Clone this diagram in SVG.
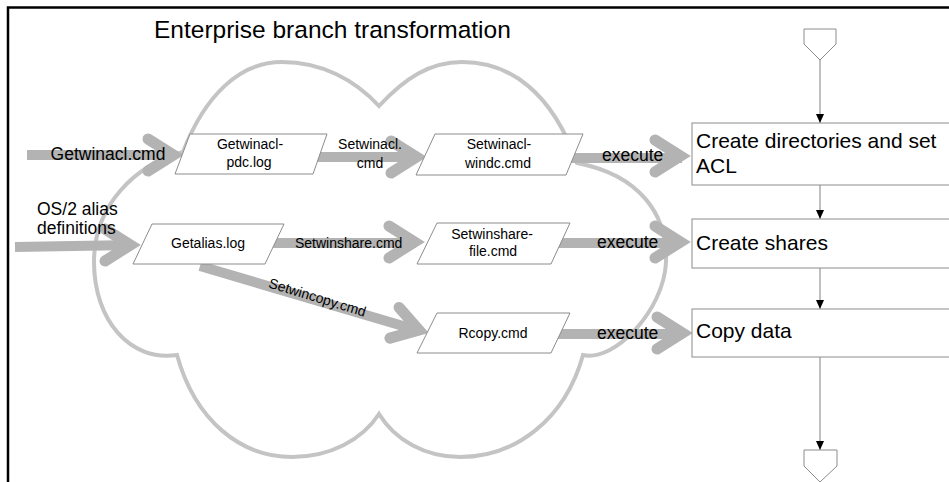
<svg xmlns="http://www.w3.org/2000/svg" xmlns:xlink="http://www.w3.org/1999/xlink" width="949" height="482" viewBox="0 0 949 482">
<style>
text{font-family:"Liberation Sans",Arial,sans-serif;fill:#000}
.t24{font-size:24.5px}
.t21{font-size:21px}
.t17{font-size:17.5px}
.t14{font-size:14px}
.mid{text-anchor:middle}
.cloud{fill:none;stroke:#c4c4c4;stroke-width:4}
.band{fill:none;stroke:#b3b3b3;stroke-width:10}
.head{fill:none;stroke:#b3b3b3;stroke-width:11;stroke-linecap:round;stroke-linejoin:miter;stroke-miterlimit:6}
.para{fill:#fff;stroke:#8c8c8c;stroke-width:1}
.box{fill:#fff;stroke:#8c8c8c;stroke-width:1}
.flow{fill:none;stroke:#808080;stroke-width:1}
</style>
<defs>
<path id="fathead" d="M-36,-16 L-10.5,0 L-36,16"/>
<marker id="tri" markerUnits="userSpaceOnUse" markerWidth="10" markerHeight="10" refX="9" refY="4" orient="auto">
<path d="M0,0 L9,4 L0,8 Z" fill="#000"/>
</marker>
</defs>
<rect x="8" y="7.5" width="1000" height="500" fill="none" stroke="#000" stroke-width="2.5"/>
<text class="t24" x="154" y="38">Enterprise branch transformation</text>
<path id="cloud" class="cloud" d="M183,152 C205,95 240,62 282,62 C322,62 355,80 379,106 C405,78 430,62 462,62 C510,62 552,92 577,163 C640,175 668,215 666,262 C664,310 615,362 583,355 C565,420 515,457 460,457 C425,457 395,440 379,414 C362,440 330,457 292,457 C240,457 195,420 177,355 C130,362 94,320 94,262 C94,205 135,165 183,152 Z"/>
<g id="connectors">
<g id="a-getwinacl"><path class="band" d="M27,155 H175"/><use xlink:href="#fathead" class="head" transform="translate(184,155)"/></g>
<g id="a-os2"><path class="band" d="M15,247 L132,245"/><use xlink:href="#fathead" class="head" transform="translate(141,245)"/></g>
<g id="a-setwinacl"><path class="band" d="M313,157 H418"/><use xlink:href="#fathead" class="head" transform="translate(427,157)"/></g>
<g id="a-exec1"><path class="band" d="M565,158 H682"/><use xlink:href="#fathead" class="head" transform="translate(691,156)"/></g>
<g id="a-setwinshare"><path class="band" d="M265,243 H416"/><use xlink:href="#fathead" class="head" transform="translate(425,242)"/></g>
<g id="a-exec2"><path class="band" d="M551,243 H682"/><use xlink:href="#fathead" class="head" transform="translate(691,242)"/></g>
<g id="a-setwincopy"><path class="band" d="M200,266 L420,331"/><use xlink:href="#fathead" class="head" transform="translate(429,333) rotate(16.5)"/></g>
<g id="a-exec3"><path class="band" d="M550,334 H684"/><use xlink:href="#fathead" class="head" transform="translate(693,333)"/></g>
<path class="flow" d="M820,60 V123" marker-end="url(#tri)"/>
<path class="flow" d="M820,185 V219" marker-end="url(#tri)"/>
<path class="flow" d="M820,268 V309" marker-end="url(#tri)"/>
<path class="flow" d="M820,357 V450" marker-end="url(#tri)"/>
</g>
<g id="lbl-getwinacl"><text class="t17 mid" x="108" y="160">Getwinacl.cmd</text></g>
<g id="lbl-os2"><text class="t17" x="37" y="215">OS/2 alias</text><text class="t17" x="37" y="234">definitions</text></g>
<g id="lbl-setwinacl"><text class="t14 mid" x="370" y="149">Setwinacl.</text><text class="t14 mid" x="370" y="168">cmd</text></g>
<g id="lbl-exec1"><text class="t17" x="602" y="161">execute</text></g>
<g id="lbl-setwinshare"><text class="t14" x="295" y="248">Setwinshare.cmd</text></g>
<g id="lbl-exec2"><text class="t17" x="597" y="248">execute</text></g>
<g id="lbl-setwincopy"><text class="t14 mid" transform="translate(316,302) rotate(17)">Setwincopy.cmd</text></g>
<g id="lbl-exec3"><text class="t17" x="597" y="339">execute</text></g>
<g id="n-getwinacl-pdc"><path class="para" d="M190,134 H327 L313,174 H175 Z"/><text class="t14 mid" x="250" y="149">Getwinacl-</text><text class="t14 mid" x="249" y="167">pdc.log</text></g>
<g id="n-setwinacl-windc"><path class="para" d="M435,134 H583 L566,175 H416 Z"/><text class="t14 mid" x="499" y="149">Setwinacl-</text><text class="t14 mid" x="498" y="168">windc.cmd</text></g>
<g id="n-getalias"><path class="para" d="M152,224 H284 L265,264 H133 Z"/><text class="t14 mid" x="208" y="248">Getalias.log</text></g>
<g id="n-setwinshare-file"><path class="para" d="M437,223 H570 L551,264 H417 Z"/><text class="t14 mid" x="492" y="239">Setwinshare-</text><text class="t14 mid" x="493" y="256">file.cmd</text></g>
<g id="n-rcopy"><path class="para" d="M437,313 H570 L551,353 H417 Z"/><text class="t14 mid" x="493" y="338">Rcopy.cmd</text></g>
<g id="n-create-dirs"><rect class="box" x="692" y="123" width="300" height="62"/><text class="t21" x="696" y="148">Create directories and set</text><text class="t21" x="696" y="173">ACL</text></g>
<g id="n-create-shares"><rect class="box" x="692" y="219" width="300" height="49"/><text class="t21" x="696" y="250">Create shares</text></g>
<g id="n-copy-data"><rect class="box" x="692" y="309" width="300" height="48"/><text class="t21" x="696" y="338">Copy data</text></g>
<g id="n-offpage-top"><path class="box" d="M804,29 H836 V44 L820,60 L804,44 Z"/></g>
<g id="n-offpage-bottom"><path class="box" d="M804,450 H837 V466 L820,482 L804,466 Z"/></g>
</svg>
